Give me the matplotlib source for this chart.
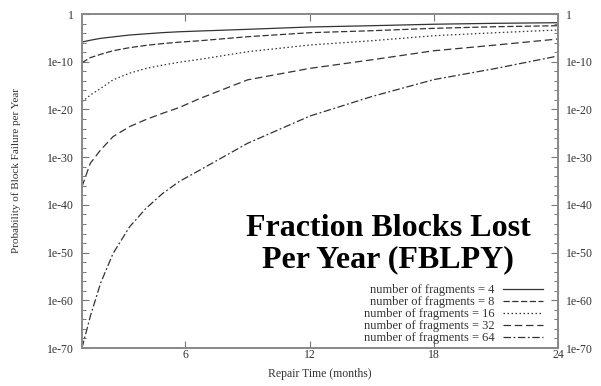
import numpy as np
import matplotlib
matplotlib.use("Agg")
import matplotlib.pyplot as plt

# repair time (months) at which curves were read
months = [1, 1.4, 1.9, 2.5, 3.3, 4.1, 4.9, 5.7, 6.7, 9, 12, 15, 18, 21, 24]

# log10 of block failure probability per year
log_p4 = [-5.87, -5.5, -5.1, -4.8, -4.4, -4.15, -3.9, -3.72, -3.56,
          -3.21, -2.72, -2.45, -2.14, -1.95, -1.82]
log_p8 = [-10.2, -9.15, -8.45, -7.7, -7.05, -6.57, -6.2, -5.9, -5.6,
          -4.76, -3.92, -3.5, -3.0, -2.66, -2.45]
log_p16 = [-18.4, -17.0, -15.6, -13.8, -12.4, -11.4, -10.7, -10.1, -9.5,
           -7.9, -6.5, -5.6, -4.55, -3.92, -3.35]
log_p32 = [-36.2, -31.3, -28.5, -25.7, -23.6, -22.1, -20.8, -19.6, -17.7,
           -13.8, -11.4, -9.6, -7.7, -6.5, -5.24]
log_p64 = [-70.0, -63.4, -56.4, -50.2, -44.6, -40.7, -37.6, -35.1, -32.7,
           -27.1, -21.4, -17.3, -13.75, -11.4, -8.8]

series = [log_p4, log_p8, log_p16, log_p32, log_p64]
labels = ["number of fragments = 4", "number of fragments = 8",
          "number of fragments = 16", "number of fragments = 32",
          "number of fragments = 64"]
styles = ["-", (0, (5, 2)), (0, (1.2, 2)), (0, (6, 3)), (0, (6, 2, 1.5, 2))]

xticks = [6, 12, 18, 24]
ytick_exp = [0, -10, -20, -30, -40, -50, -60, -70]
ytick_labels = ["1", "1e-10", "1e-20", "1e-30", "1e-40", "1e-50", "1e-60", "1e-70"]

plt.rcParams['font.family'] = ['Liberation Serif', 'DejaVu Serif']

fig = plt.figure(figsize=(6.01, 3.86), dpi=100)
ax = fig.add_axes([0.1364, 0.0984, 0.792, 0.8653])

for vals, lab, ls in zip(series, labels, styles):
    ax.plot(months, 10.0 ** np.array(vals), color="#333333", lw=0.9,
            linestyle=ls, label=lab)

ax.set_yscale("log")
ax.set_xlim(1, 24)
ax.set_ylim(1e-70, 1)

ax.set_xticks(xticks)
ax.set_xticklabels([str(t) for t in xticks])
ax.set_yticks([10.0 ** e for e in ytick_exp])
ax.set_yticklabels(ytick_labels)
ax.set_yticks([10.0 ** e for e in range(-70, 1, 2)], minor=True)
ax.yaxis.set_minor_formatter(matplotlib.ticker.NullFormatter())
ax.xaxis.set_minor_locator(matplotlib.ticker.NullLocator())

ax.tick_params(axis="both", which="major", direction="in", length=5,
               width=0.8, color="#777777", labelsize=8.5, labelcolor="#333333",
               top=True, right=True, labelright=True)
ax.tick_params(axis="y", which="minor", direction="in", length=3,
               width=0.7, color="#777777", right=True)
ax.tick_params(axis="y", which="major", pad=6)
ax.tick_params(axis="x", pad=1)
for sp in ax.spines.values():
    sp.set_color("#888888")
    sp.set_linewidth(1.4)

ax.set_xlabel("Repair Time (months)", fontsize=8.5, color="#333333")
ax.xaxis.set_label_coords(0.5, -0.06)
ax.set_ylabel("Probability of Block Failure per Year", fontsize=8,
              color="#333333")
ax.yaxis.set_label_coords(-0.128, 0.53)

ax.text(0.643, 0.31, "Fraction Blocks Lost\nPer Year (FBLPY)",
        transform=ax.transAxes, ha="center", va="center", fontsize=23,
        fontweight="bold", color="black", linespacing=1.1)

ax.legend(loc="lower right", bbox_to_anchor=(0.968, 0.012), frameon=False,
          markerfirst=False, fontsize=9, handlelength=3.2, labelspacing=0.0,
          handletextpad=0.64, borderpad=0.0, borderaxespad=0.0,
          labelcolor="#333333")

fig.savefig("out.png", dpi=100)
